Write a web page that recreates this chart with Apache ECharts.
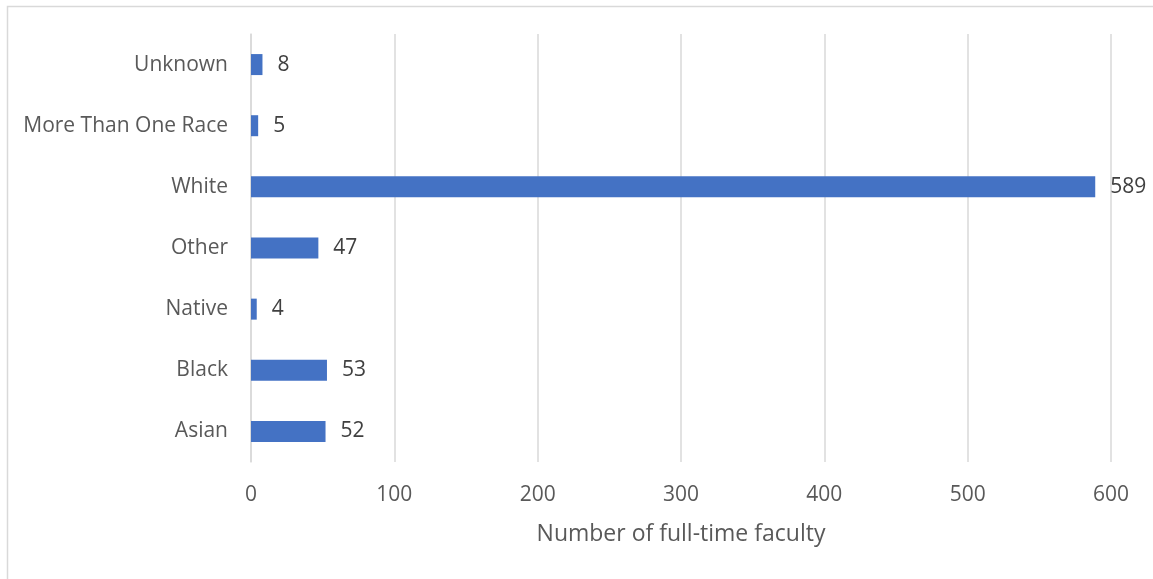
<!DOCTYPE html>
<html>
<head>
<meta charset="utf-8">
<script src="https://cdn.jsdelivr.net/npm/echarts@6/dist/echarts.min.js"></script>
<style>
  html, body { margin: 0; padding: 0; background: #ffffff; }
  #chart { width: 1153px; height: 579px; }
</style>
</head>
<body>
<div id="chart"></div>
<script>
// Full-time faculty by race/ethnicity
const categories = ['Asian', 'Black', 'Native', 'Other', 'White', 'More Than One Race', 'Unknown'];
const facultyCounts = [52, 53, 4, 47, 589, 5, 8];
const xTicks = { min: 0, max: 600, interval: 100 };
const xAxisTitle = 'Number of full-time faculty';

const textColor = '#595959';
const fontFamily = '"Open Sans", "Noto Sans", sans-serif';

const chart = echarts.init(document.getElementById('chart'));
chart.setOption({
  animation: false,
  backgroundColor: '#ffffff',
  graphic: [{
    type: 'rect',
    left: 5,
    top: 4,
    shape: { width: 1160, height: 590 },
    style: { fill: 'none', stroke: '#d9d9d9', lineWidth: 1.5 },
    silent: true
  }],
  grid: { left: 251, right: 42, top: 34, bottom: 117 },
  xAxis: {
    type: 'value',
    min: xTicks.min,
    max: xTicks.max,
    interval: xTicks.interval,
    name: xAxisTitle,
    nameLocation: 'middle',
    nameGap: 61,
    nameTextStyle: { color: textColor, fontSize: 23, fontFamily: fontFamily },
    axisLine: { show: false },
    axisTick: { show: false },
    axisLabel: { color: textColor, fontSize: 21, fontFamily: fontFamily, margin: 23 },
    splitLine: { show: true, lineStyle: { color: '#d9d9d9', width: 1.5 } }
  },
  yAxis: {
    type: 'category',
    data: categories,
    axisLine: { show: true, lineStyle: { color: '#d9d9d9', width: 1.5 } },
    axisTick: { show: false },
    axisLabel: { color: textColor, fontSize: 21, fontFamily: fontFamily, margin: 23 }
  },
  series: [{
    type: 'bar',
    data: facultyCounts,
    barWidth: 21,
    itemStyle: { color: '#4472c4' },
    label: {
      show: true,
      position: 'right',
      distance: 15,
      color: '#404040',
      fontSize: 21,
      fontFamily: fontFamily
    }
  }]
});
</script>
</body>
</html>
